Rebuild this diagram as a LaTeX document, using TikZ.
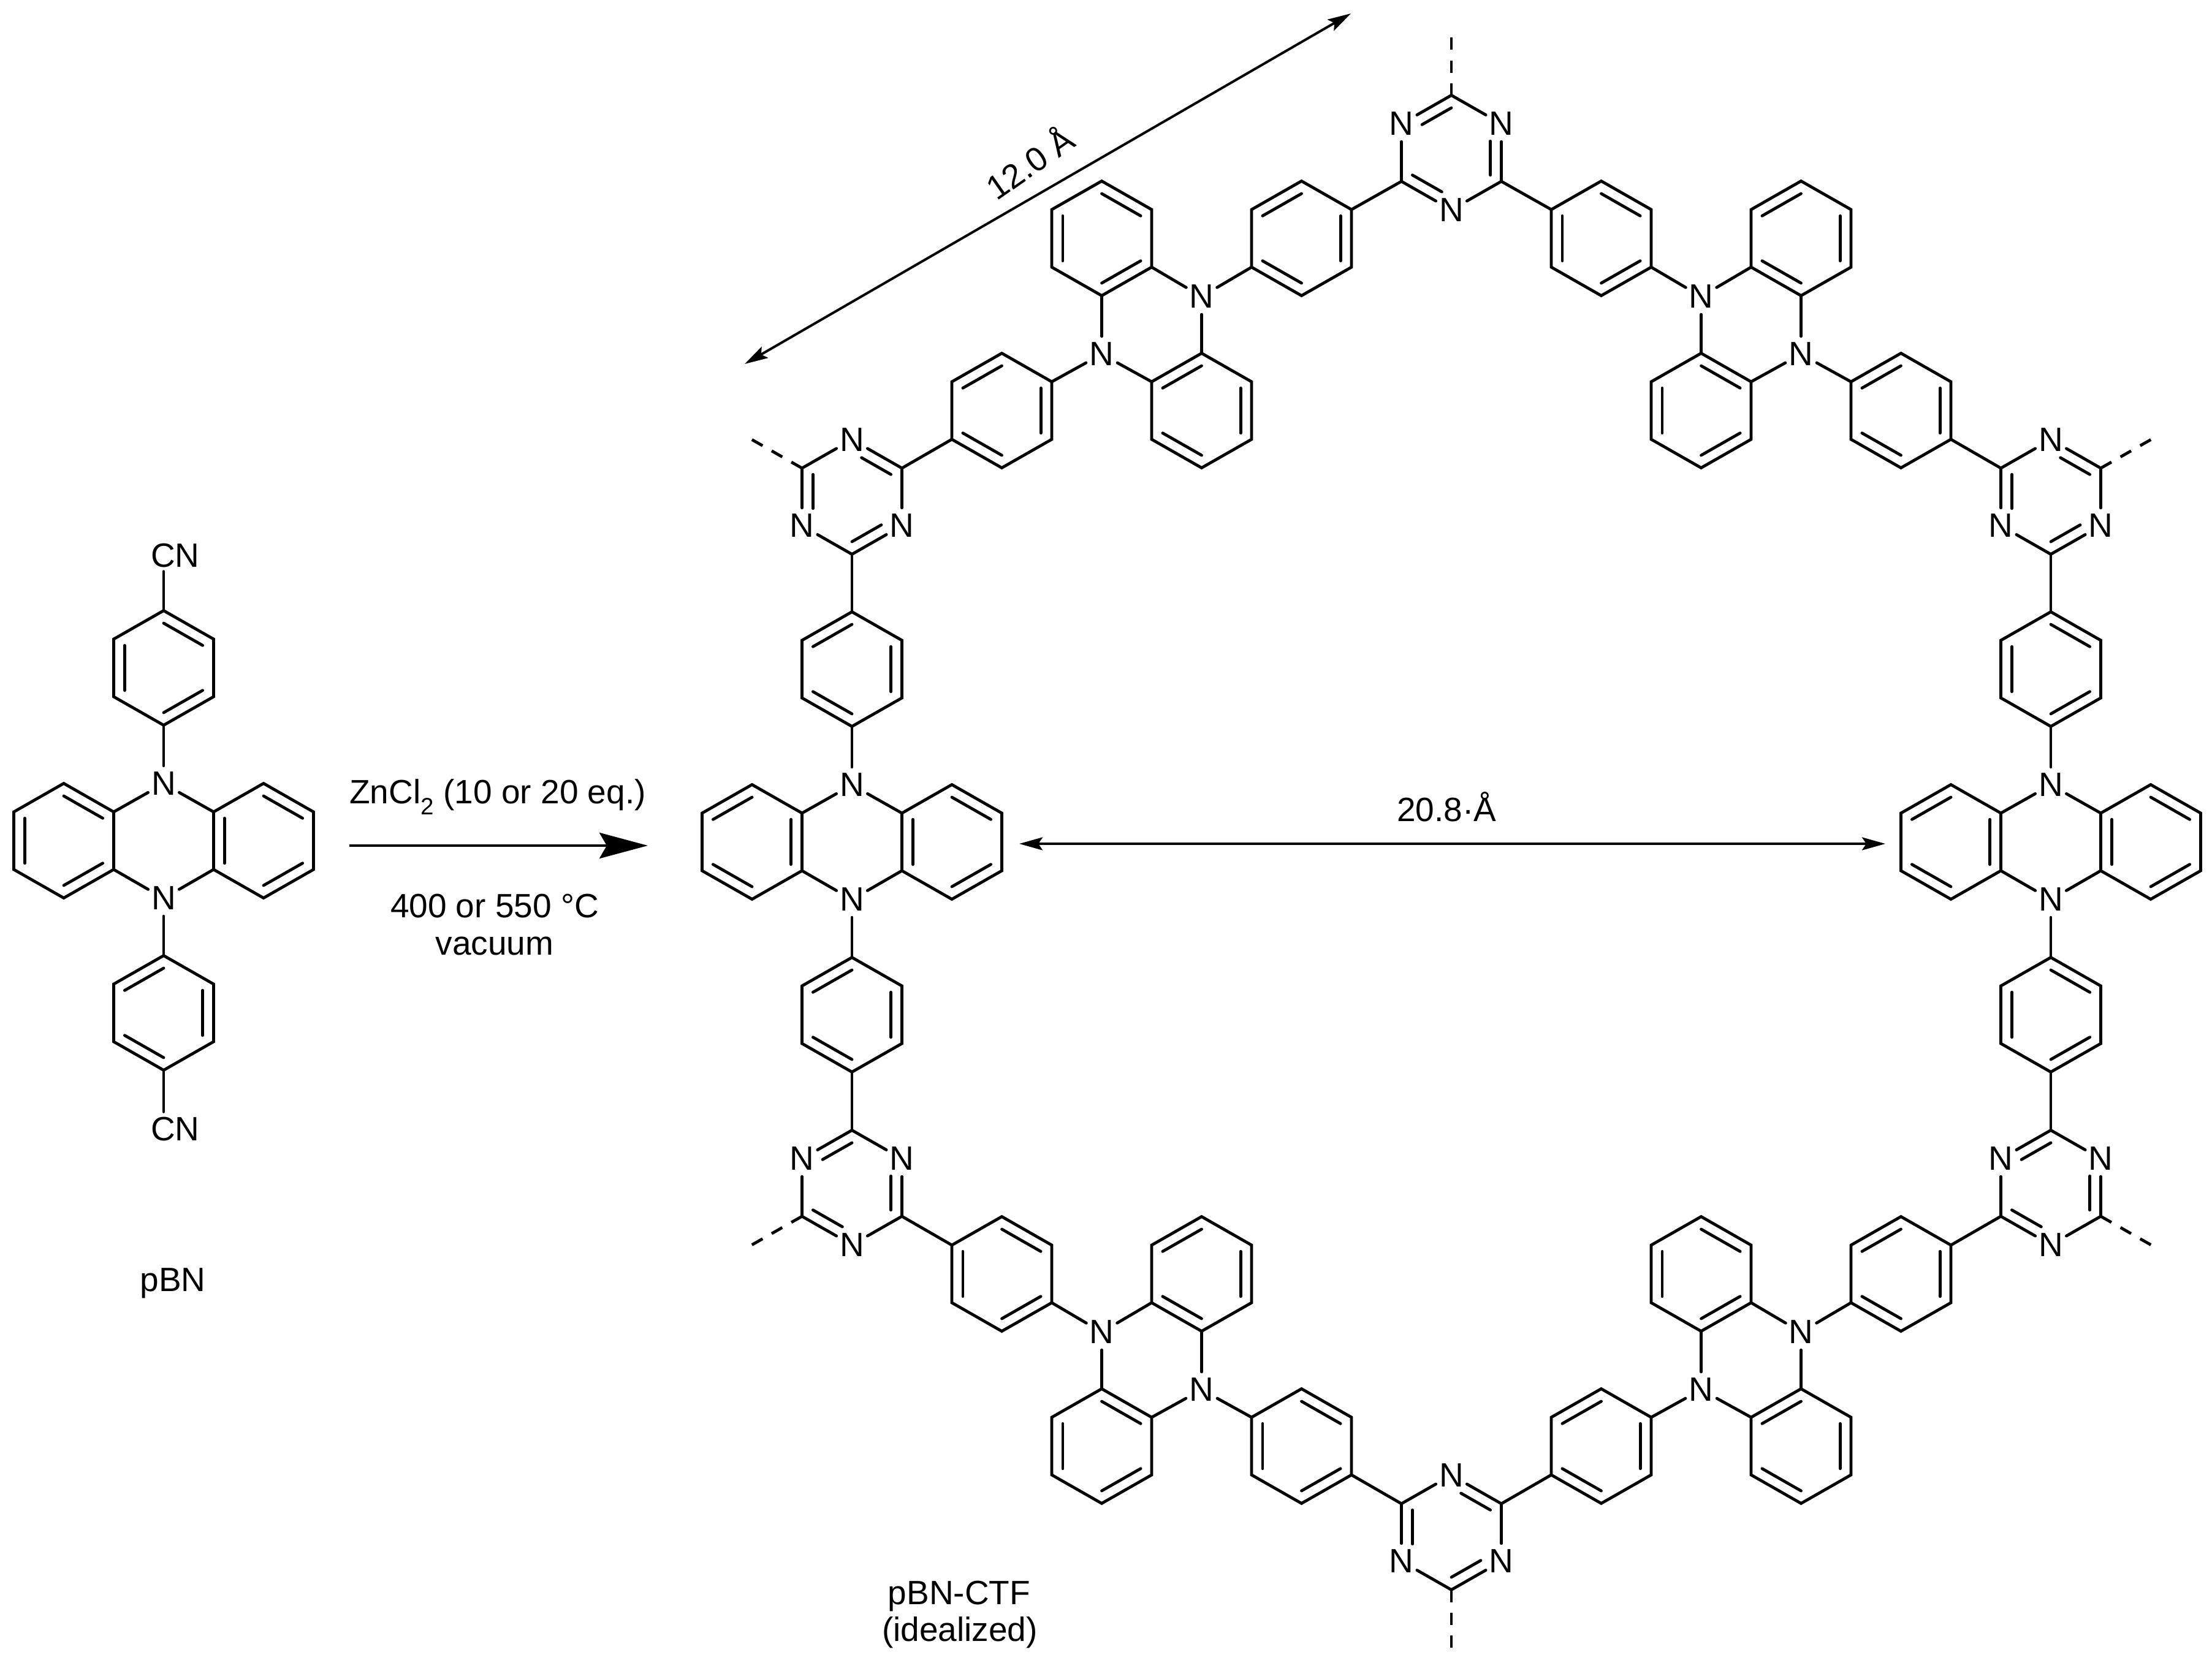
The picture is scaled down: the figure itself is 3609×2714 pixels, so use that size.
\documentclass[tikz,border=0pt]{standalone}
\usepackage{fontspec}
\setmainfont{Liberation Sans}
\usetikzlibrary{arrows.meta}
\tikzset{
  bond/.style={line width=4.8pt,line cap=round,line join=miter,black},
  dashbond/.style={line width=4.8pt,line cap=butt,black,dash pattern=on 20pt off 17pt},
  atom/.style={circle,inner sep=0pt,minimum size=58pt,font=\fontsize{55}{63}\selectfont},
  lab/.style={inner sep=0pt,anchor=base,align=center,font=\fontsize{55}{63}\selectfont},
  rxnarrow/.style={line width=4.4pt,-{Stealth[length=79pt,width=42pt,inset=12pt]}},
  dimarrow/.style={line width=4pt,{Stealth[length=38pt,width=21pt,inset=7pt]}-{Stealth[length=38pt,width=21pt,inset=7pt]}},
}
\def\dbleven{0/1,2/3,4/5}
\def\dblodd{1/2,3/4,5/0}
% vertices: 0 top, 1 upper right, 2 lower right, 3 bottom, 4 lower left, 5 upper left
\newcommand{\hexverts}[3]{%
  \coordinate (#1-0) at (#2,{#3-93.5});
  \coordinate (#1-1) at ({#2+81.5},{#3-47});
  \coordinate (#1-2) at ({#2+81.5},{#3+47});
  \coordinate (#1-3) at (#2,{#3+93.5});
  \coordinate (#1-4) at ({#2-81.5},{#3+47});
  \coordinate (#1-5) at ({#2-81.5},{#3-47});
  \coordinate (#1-i0) at (#2,{#3-73});
  \coordinate (#1-i1) at ({#2+63.6},{#3-36.7});
  \coordinate (#1-i2) at ({#2+63.6},{#3+36.7});
  \coordinate (#1-i3) at (#2,{#3+73});
  \coordinate (#1-i4) at ({#2-63.6},{#3+36.7});
  \coordinate (#1-i5) at ({#2-63.6},{#3-36.7});
}
\newcommand{\benz}[4]{%
  \hexverts{#1}{#2}{#3}
  \draw[bond] (#1-0)--(#1-1)--(#1-2)--(#1-3)--(#1-4)--(#1-5)--cycle;
  \foreach \a/\b in #4 {\draw[bond] (#1-i\a)--(#1-i\b);}
}
% triazine: the first vertex of every double bond is a nitrogen
\newcommand{\triaz}[4]{%
  \hexverts{#1}{#2}{#3}
  \foreach \a/\b in #4 {\node[atom] (#1-\a) at (#1-\a) {N};}
  \foreach \a/\b in {0/1,1/2,2/3,3/4,4/5,5/0} {\draw[bond] (#1-\a)--(#1-\b);}
  \foreach \a/\b in #4 {\draw[bond,shorten <=18pt] (#1-i\a)--(#1-i\b);}
}
\begin{document}
\begin{tikzpicture}[x=1pt,y=-1pt]
\path[fill=white] (0,0) rectangle (3609,2714);
\useasboundingbox (0,0) rectangle (3609,2714);

% ---------- pBN monomer
\benz{pa}{267}{1090}{\dbleven}
\benz{pl}{104}{1372}{\dbleven}
\benz{pr}{430}{1372}{\dbleven}
\benz{pb}{267}{1653}{\dblodd}
\node[atom] (pn1) at (267,1279) {N};
\node[atom] (pn2) at (267,1466) {N};
\draw[bond] (pa-3)--(pn1);
\draw[bond] (pn1)--(pl-1);
\draw[bond] (pn1)--(pr-5);
\draw[bond] (pn2)--(pl-2);
\draw[bond] (pn2)--(pr-4);
\draw[bond] (pn2)--(pb-0);
\node[lab] (cnt) at (286,925) {CN};
\node[lab] (cnb) at (286,1861) {CN};
\draw[bond] (pa-0)--([yshift=-7pt]cnt.south -| pa-0);
\draw[bond] (pb-3)--([yshift=8pt]cnb.north -| pb-3);
\node[lab] (tpbn) at (282,2107) {pBN};

% ---------- reaction arrow
\coordinate (ra) at (570,1380);
\coordinate (rb) at (1057,1380);
\draw[rxnarrow] (ra)--(rb);
\node[lab] (tzn) at (812,1311) {ZnCl\textsubscript{2} (10 or 20 eq.)};
\node[lab] (t400) at (807,1497) {400 or 550 °C};
\node[lab] (tvac) at (807,1558) {vacuum};

% ---------- left column
\benz{la}{1390}{1092}{\dblodd}
\benz{ll}{1227}{1374}{\dblodd}
\benz{lr}{1553}{1374}{\dbleven}
\benz{lb}{1390}{1656}{\dblodd}
\node[atom] (ln1) at (1390,1281) {N};
\node[atom] (ln2) at (1390,1468) {N};
\draw[bond] (la-3)--(ln1);
\draw[bond] (ln1)--(ll-1);
\draw[bond] (ln1)--(lr-5);
\draw[bond] (ln2)--(ll-2);
\draw[bond] (ln2)--(lr-4);
\draw[bond] (ln2)--(lb-0);

% ---------- right column
\benz{ra}{3346}{1092}{\dbleven}
\benz{rl}{3183}{1374}{\dblodd}
\benz{rr}{3509}{1374}{\dbleven}
\benz{rb}{3346}{1656}{\dbleven}
\node[atom] (rn1) at (3346,1281) {N};
\node[atom] (rn2) at (3346,1468) {N};
\draw[bond] (ra-3)--(rn1);
\draw[bond] (rn1)--(rl-1);
\draw[bond] (rn1)--(rr-5);
\draw[bond] (rn2)--(rl-2);
\draw[bond] (rn2)--(rr-4);
\draw[bond] (rn2)--(rb-0);

% ---------- triazines
\triaz{t1}{2368}{249}{\dblodd}
\triaz{t2}{1390}{811}{\dbleven}
\triaz{t3}{3346}{811}{\dbleven}
\triaz{t4}{1390}{1938}{\dblodd}
\triaz{t5}{3346}{1938}{\dblodd}
\triaz{t6}{2368}{2501}{\dbleven}

\coordinate (d1) at (2368,60);
\coordinate (d2) at (1226,717);
\coordinate (d3) at (3510,717);
\coordinate (d4) at (1226,2032);
\coordinate (d5) at (3510,2032);
\coordinate (d6) at (2368,2690);
\draw[dashbond] (t1-0)--(d1);
\draw[dashbond] (t2-5)--(d2);
\draw[dashbond] (t3-1)--(d3);
\draw[dashbond] (t4-4)--(d4);
\draw[dashbond] (t5-2)--(d5);
\draw[dashbond] (t6-3)--(d6);

\draw[bond] (t2-3)--(la-0);
\draw[bond] (t3-3)--(ra-0);
\draw[bond] (lb-3)--(t4-0);
\draw[bond] (rb-3)--(t5-0);

% ---------- upper left phenazine
\benz{a1}{2123.5}{389}{\dblodd}
\benz{a2}{1797.5}{389}{\dbleven}
\benz{a3}{1960.5}{670}{\dblodd}
\benz{a4}{1634.5}{670}{\dblodd}
\node[atom] (an1) at (1960.5,484) {N};
\node[atom] (an2) at (1797.5,578) {N};
\draw[bond] (t1-4)--(a1-1);
\draw[bond] (a1-4)--(an1);
\draw[bond] (an1)--(a2-2);
\draw[bond] (an1)--(a3-0);
\draw[bond] (an2)--(a2-3);
\draw[bond] (an2)--(a3-5);
\draw[bond] (an2)--(a4-1);
\draw[bond] (a4-4)--(t2-1);

% ---------- upper right phenazine
\benz{b1}{2612.5}{389}{\dbleven}
\benz{b2}{2938.5}{389}{\dblodd}
\benz{b3}{2775.5}{670}{\dbleven}
\benz{b4}{3101.5}{670}{\dblodd}
\node[atom] (bn1) at (2775.5,484) {N};
\node[atom] (bn2) at (2938.5,578) {N};
\draw[bond] (t1-2)--(b1-5);
\draw[bond] (b1-2)--(bn1);
\draw[bond] (bn1)--(b2-4);
\draw[bond] (bn1)--(b3-0);
\draw[bond] (bn2)--(b2-3);
\draw[bond] (bn2)--(b3-1);
\draw[bond] (bn2)--(b4-5);
\draw[bond] (b4-2)--(t3-5);

% ---------- lower left phenazine
\benz{c1}{1634.5}{2079}{\dbleven}
\benz{c2}{1960.5}{2079}{\dblodd}
\benz{c3}{1797.5}{2360}{\dbleven}
\benz{c4}{2123.5}{2360}{\dbleven}
\node[atom] (cn1) at (1797.5,2174) {N};
\node[atom] (cn2) at (1960.5,2268) {N};
\draw[bond] (t4-2)--(c1-5);
\draw[bond] (c1-2)--(cn1);
\draw[bond] (cn1)--(c2-4);
\draw[bond] (cn1)--(c3-0);
\draw[bond] (cn2)--(c2-3);
\draw[bond] (cn2)--(c3-1);
\draw[bond] (cn2)--(c4-5);
\draw[bond] (c4-2)--(t6-5);

% ---------- lower right phenazine
\benz{e1}{3101.5}{2079}{\dblodd}
\benz{e2}{2775.5}{2079}{\dbleven}
\benz{e3}{2938.5}{2360}{\dblodd}
\benz{e4}{2612.5}{2360}{\dblodd}
\node[atom] (en1) at (2938.5,2174) {N};
\node[atom] (en2) at (2775.5,2268) {N};
\draw[bond] (t5-4)--(e1-1);
\draw[bond] (e1-4)--(en1);
\draw[bond] (en1)--(e2-2);
\draw[bond] (en1)--(e3-0);
\draw[bond] (en2)--(e2-3);
\draw[bond] (en2)--(e3-5);
\draw[bond] (en2)--(e4-1);
\draw[bond] (e4-4)--(t6-1);

% ---------- dimensions and labels
\coordinate (h1) at (1663,1377);
\coordinate (h2) at (3076,1377);
\draw[dimarrow] (h1)--(h2);
\node[lab] (t208) at (2360,1340) {20.8·Å};
\coordinate (s1) at (1215,594);
\coordinate (s2) at (2204,22);
\draw[dimarrow] (s1)--(s2);
\node[lab,rotate=35] (t120) at (1692,283) {12.0 Å};
\node[lab] (tctf) at (1565,2618) {pBN-CTF};
\node[lab] (tid) at (1566,2678) {(idealized)};
\end{tikzpicture}
\end{document}
